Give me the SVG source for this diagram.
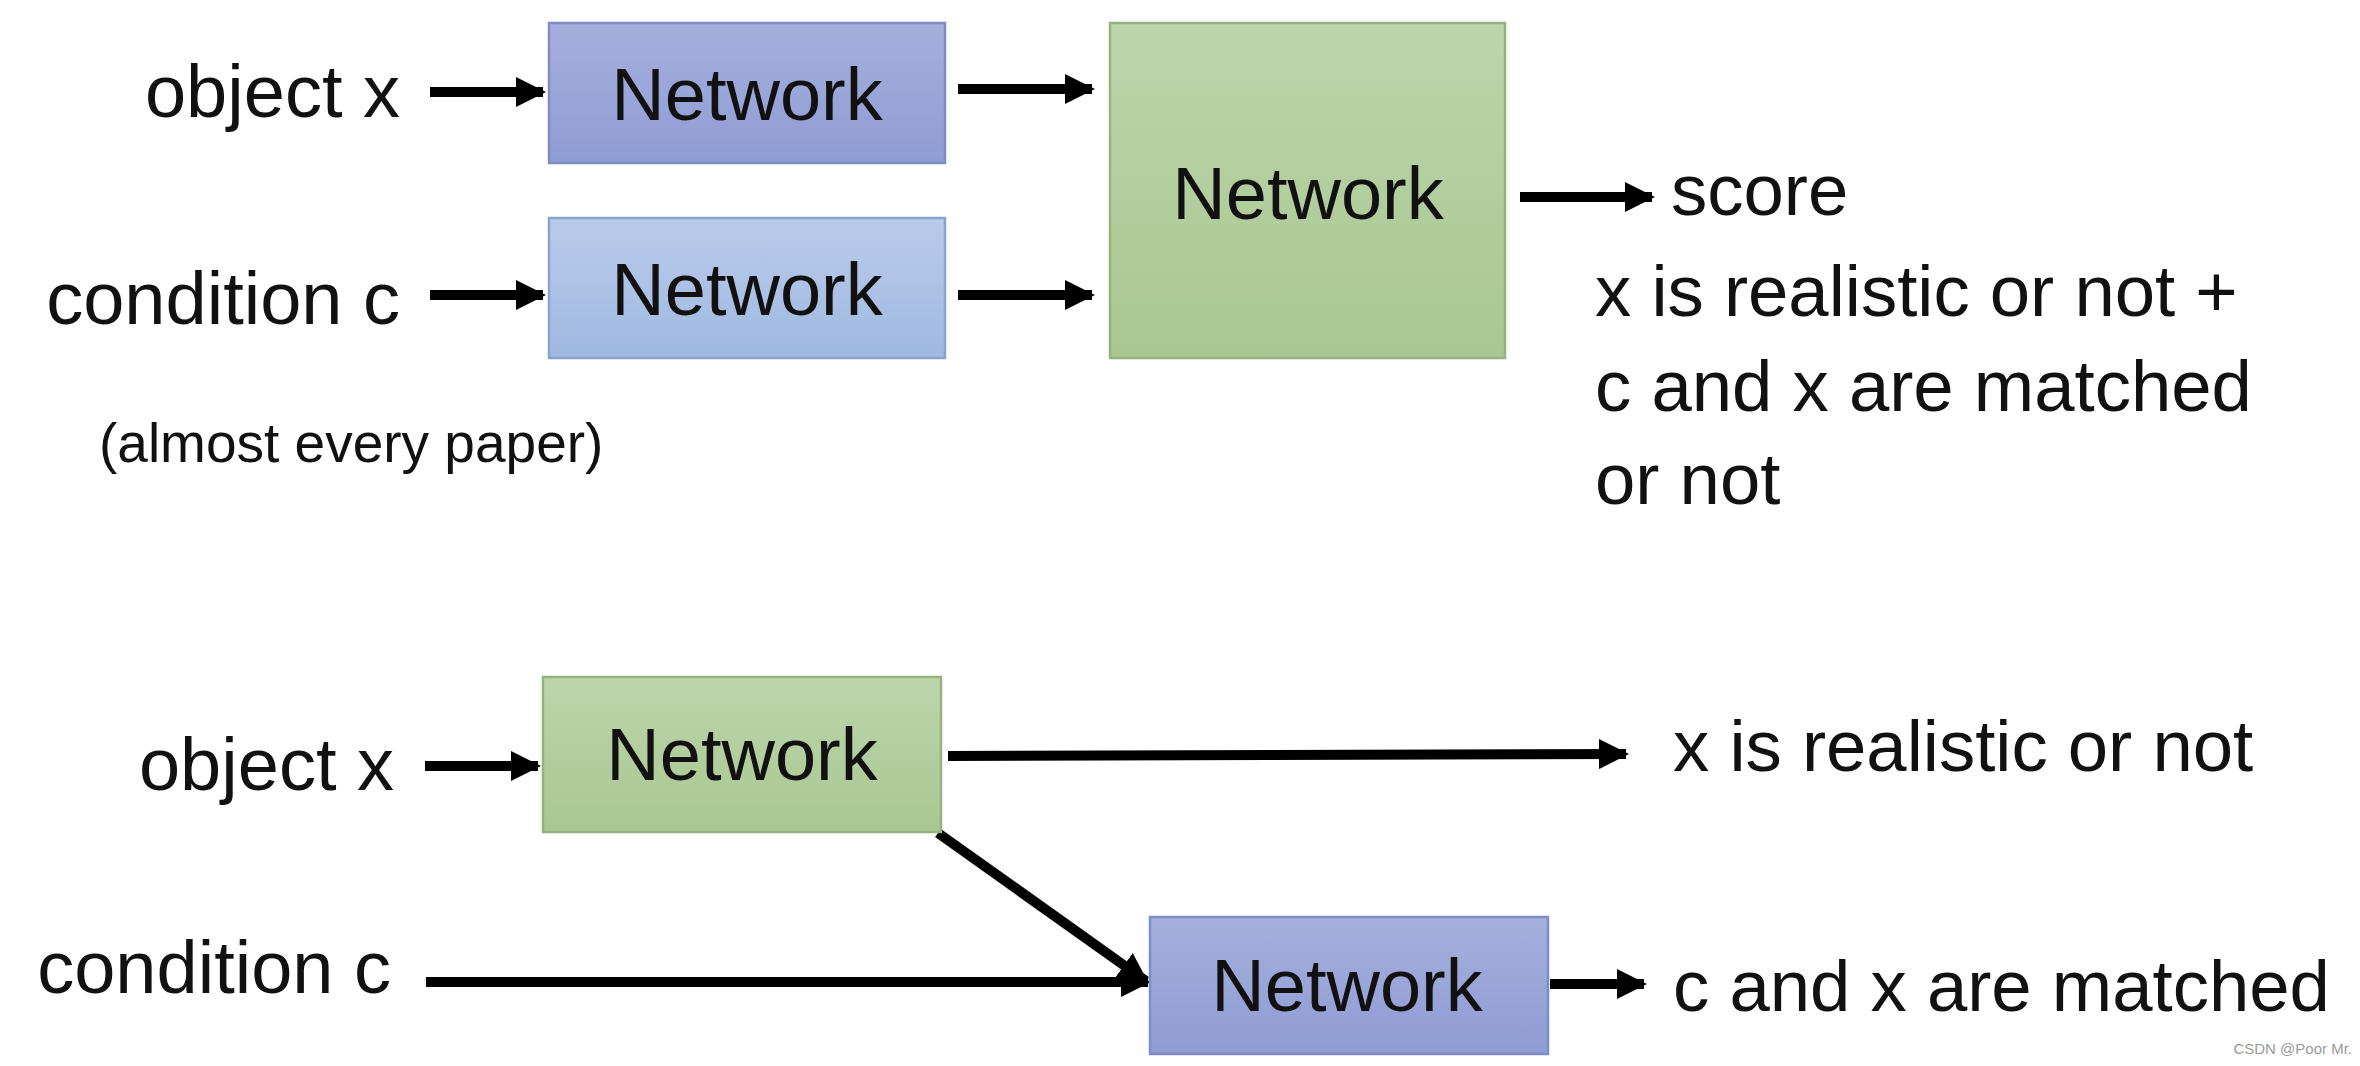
<svg xmlns="http://www.w3.org/2000/svg" width="2360" height="1066" viewBox="0 0 2360 1066">
<style>
text{font-family:"Liberation Sans",Arial,sans-serif;fill:#111;}
.lbl{font-size:72.5px;}
.in{font-size:74px;text-anchor:end;}
.small{font-size:55px;}
.net{font-size:74px;text-anchor:middle;}
.wm{font-size:15px;fill:#9a9a9a;}
.c{stroke:#000;stroke-width:10;fill:none;}
.purple{fill:url(#gP);stroke:#7f8dc6;stroke-width:2.5;}
.blue{fill:url(#gB);stroke:#8aa3d0;stroke-width:2.5;}
.green{fill:url(#gG);stroke:#94b37e;stroke-width:2.5;}
</style>
<defs>
<linearGradient id="gP" x1="0" y1="0" x2="0" y2="1"><stop offset="0" stop-color="#a6b0de"/><stop offset="1" stop-color="#8f9cd4"/></linearGradient>
<linearGradient id="gB" x1="0" y1="0" x2="0" y2="1"><stop offset="0" stop-color="#b9cbea"/><stop offset="1" stop-color="#a0b9e1"/></linearGradient>
<linearGradient id="gG" x1="0" y1="0" x2="0" y2="1"><stop offset="0" stop-color="#bdd5ac"/><stop offset="1" stop-color="#a8c791"/></linearGradient>
<marker id="ah" viewBox="0 0 10 10" refX="9" refY="5" markerWidth="3" markerHeight="3" orient="auto" markerUnits="strokeWidth">
<path d="M0,0 L10,5 L0,10 z" fill="#000"/>
</marker>
</defs>
<rect width="2360" height="1066" fill="#fff"/>

<g id="connectors">
<line class="c" x1="430" y1="92" x2="543" y2="92" marker-end="url(#ah)"/>
<line class="c" x1="958" y1="89" x2="1092" y2="89" marker-end="url(#ah)"/>
<line class="c" x1="430" y1="295" x2="543" y2="295" marker-end="url(#ah)"/>
<line class="c" x1="958" y1="295" x2="1092" y2="295" marker-end="url(#ah)"/>
<line class="c" x1="1520" y1="197" x2="1652" y2="197" marker-end="url(#ah)"/>
<line class="c" x1="425" y1="766" x2="538" y2="766" marker-end="url(#ah)"/>
<line class="c" x1="948" y1="756" x2="1626" y2="754" marker-end="url(#ah)"/>
<line class="c" x1="938" y1="833" x2="1146" y2="981" marker-end="url(#ah)"/>
<line class="c" x1="426" y1="982" x2="1148" y2="982" marker-end="url(#ah)"/>
<line class="c" x1="1550" y1="984" x2="1644" y2="984" marker-end="url(#ah)"/>
</g>

<g id="node-net1">
<rect class="purple" x="549" y="23" width="396" height="140"/>
<text class="net" x="747" y="120">Network</text>
</g>
<g id="node-net2">
<rect class="blue" x="549" y="218" width="396" height="140"/>
<text class="net" x="747" y="315">Network</text>
</g>
<g id="node-net3">
<rect class="green" x="1110" y="23" width="395" height="335"/>
<text class="net" x="1308" y="219">Network</text>
</g>
<g id="node-net4">
<rect class="green" x="543" y="677" width="398" height="155"/>
<text class="net" x="742" y="780">Network</text>
</g>
<g id="node-net5">
<rect class="purple" x="1150" y="917" width="398" height="137"/>
<text class="net" x="1347" y="1011">Network</text>
</g>

<g id="labels">
<text class="in" x="400" y="117">object x</text>
<text class="in" x="400" y="324">condition c</text>
<text class="small" x="99" y="462">(almost every paper)</text>
<text class="lbl" x="1671" y="215">score</text>
<text class="lbl" x="1595" y="316">x is realistic or not +</text>
<text class="lbl" x="1595" y="411">c and x are matched</text>
<text class="lbl" x="1595" y="504">or not</text>
<text class="in" x="394" y="790">object x</text>
<text class="lbl" x="1673" y="771">x is realistic or not</text>
<text class="in" x="391" y="993">condition c</text>
<text class="lbl" x="1673" y="1011">c and x are matched</text>
<text class="wm" x="2352" y="1054" text-anchor="end">CSDN @Poor Mr.</text>
</g>
</svg>
